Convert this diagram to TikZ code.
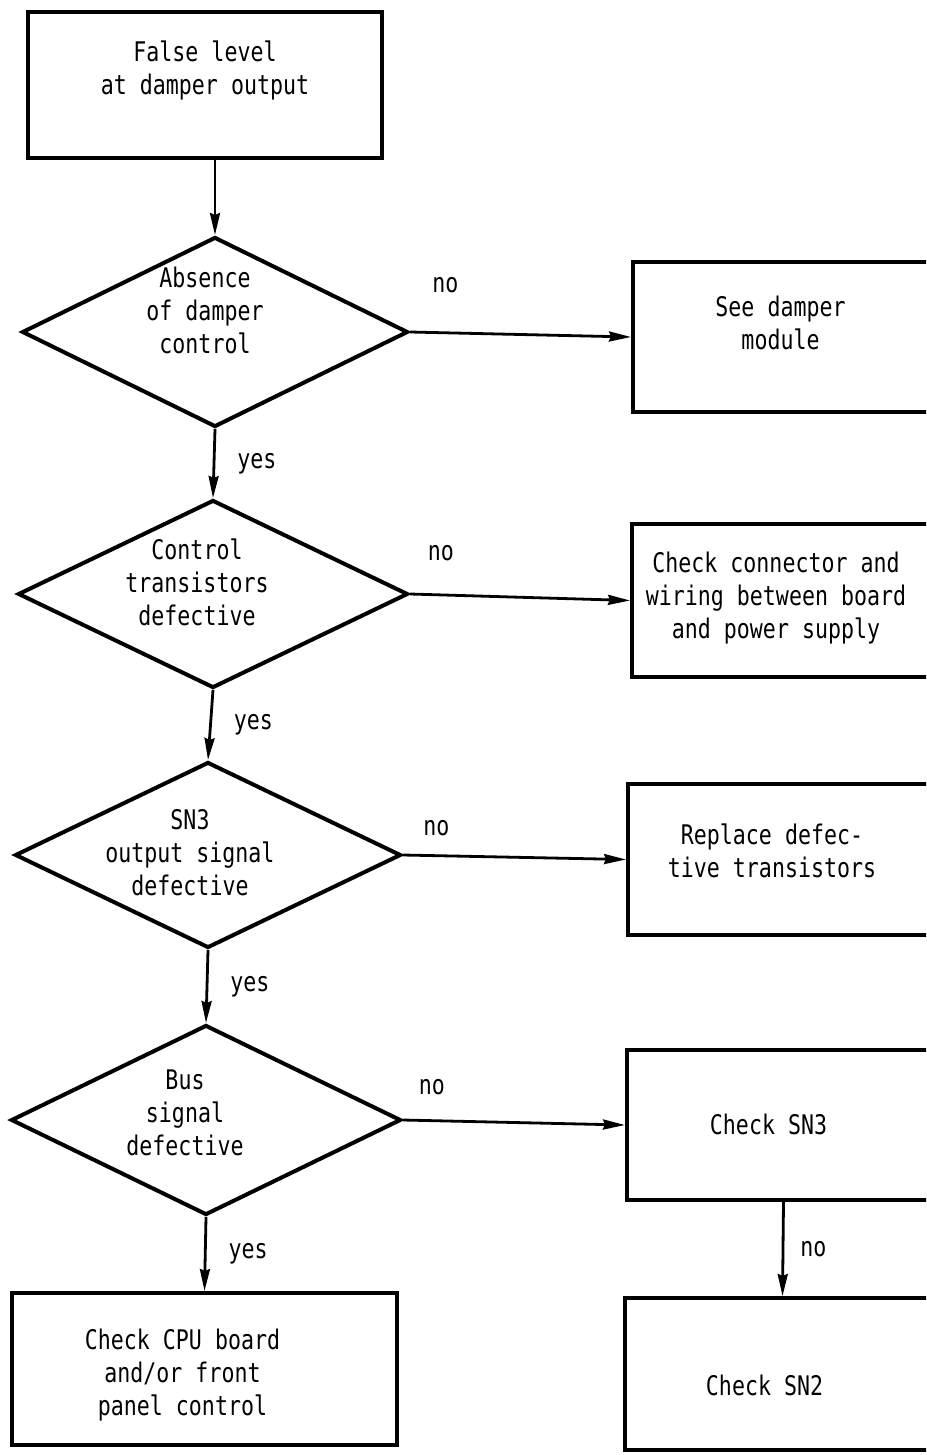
\documentclass[tikz,border=0pt]{standalone}
\usepackage{fontspec}
\newfontfamily\plotter[FakeStretch=0.8]{DejaVu Sans Mono}
\usepackage{tikz}
\usetikzlibrary{shapes.geometric, arrows.meta}
\tikzstyle{process} = [rectangle, draw=black, line width=2pt, inner sep=0pt, font=\plotter\fontsize{13.5}{16.5}\selectfont]
\tikzstyle{decision} = [diamond, draw=black, line width=2pt, inner sep=0pt, font=\plotter\fontsize{13.5}{16.5}\selectfont]
\tikzstyle{answer} = [inner sep=0pt, font=\plotter\fontsize{13.5}{16.5}\selectfont]
\tikzstyle{arrow} = [line width=1.4pt,-{Stealth[length=11pt,width=5pt,inset=1pt]}]
% text block moved by #1 sideways and #2 upwards
\newcommand{\moved}[3]{\raisebox{#2}[0pt][0pt]{\kern#1\begin{tabular}{@{}c@{}}#3\end{tabular}\kern-#1}}

\begin{document}
\begin{tikzpicture}[x=0.5pt,y=-0.5pt]
		\useasboundingbox (0,0) rectangle (926,1455);
		\clip (0,0) rectangle (926,1455);
		% main column
		\node (start) [process, minimum width=177pt, minimum height=73pt] at (205,85) {\moved{0pt}{3pt}{False level\\at damper output}};
		\node (d1) [decision, minimum width=193pt, minimum height=95pt] at (215,332) {\moved{-5pt}{5.5pt}{Absence\\of damper\\control}};
		\node (d2) [decision, minimum width=195pt, minimum height=94pt] at (213,594) {\moved{-8pt}{0.5pt}{Control\\transistors\\defective}};
		\node (d3) [decision, minimum width=193pt, minimum height=93pt] at (208,855) {\moved{-9pt}{-4pt}{SN3\\output signal\\defective}};
		\node (d4) [decision, minimum width=195pt, minimum height=95pt] at (206,1120) {\moved{-10.5pt}{-1.5pt}{Bus\\signal\\defective}};
		\node (cpu) [process, minimum width=192.5pt, minimum height=76pt] at (204.5,1369) {\moved{-11pt}{-7pt}{Check CPU board\\and/or front\\panel control}};
		% right column
		\node (module) [process, minimum width=153.5pt, minimum height=75pt] at (786.5,337) {\moved{-3pt}{1.5pt}{See damper\\module}};
		\node (wiring) [process, minimum width=154pt, minimum height=76.5pt] at (786,600.5) {\moved{-5pt}{-3pt}{Check connector and\\wiring between board\\and power supply}};
		\node (replace) [process, minimum width=156pt, minimum height=75.5pt] at (784,859.5) {\moved{-6pt}{-1pt}{Replace defec-\\tive transistors}};
		\node (sn3) [process, minimum width=156.5pt, minimum height=75pt] at (783.5,1125) {\moved{-7.5pt}{-5pt}{Check SN3}};
		\node (sn2) [process, minimum width=157.5pt, minimum height=76pt] at (782.5,1374) {\moved{-9pt}{-11pt}{Check SN2}};
		% connectors
		\draw [arrow] (d1.north |- start.south) -- (d1.north);
		\draw [arrow] (d1.south) -- node[answer, right=11pt] {yes} (d2.north);
		\draw [arrow] (d2.south) -- node[answer, right=11pt] {yes} (d3.north);
		\draw [arrow] (d3.south) -- node[answer, right=11pt] {yes} (d4.north);
		\draw [arrow] (d4.south) -- node[answer, right=11pt] {yes} (cpu.north);
		\draw [arrow] (d1.east) -- node[answer, pos=0.16, yshift=24pt] {no} (module.west);
		\draw [arrow] (d2.east) -- node[answer, pos=0.14, yshift=21pt] {no} (wiring.west);
		\draw [arrow] (d3.east) -- node[answer, pos=0.15, yshift=14pt] {no} (replace.west);
		\draw [arrow] (d4.east) -- node[answer, pos=0.13, yshift=17pt] {no} (sn3.west);
		\draw [arrow] (sn3.south) -- node[answer, right=8pt] {no} (sn2.north);
		\end{tikzpicture}
\end{document}
